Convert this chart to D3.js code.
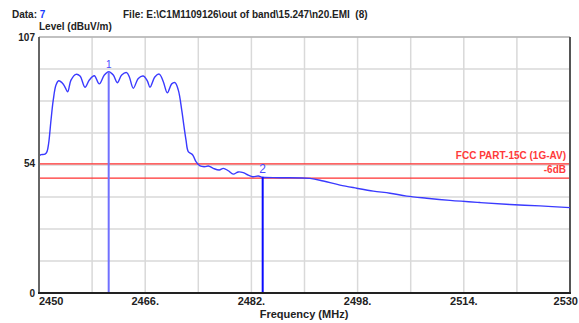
<!DOCTYPE html>
<html>
<head>
<meta charset="utf-8">
<script src="https://cdn.jsdelivr.net/npm/d3@7"></script>
<style>
  html, body { margin: 0; padding: 0; background: #fff; }
  svg { display: block; font-family: Arial, "Liberation Sans", sans-serif; }
</style>
</head>
<body>
<svg id="chart" width="579" height="323"></svg>
<script>
// Measured emission trace (frequency in MHz, level in dBuV/m)
const freqs = [2450.00, 2450.30, 2450.90, 2451.21, 2451.46, 2451.81, 2452.15, 2452.56, 2452.97, 2453.47,
  2453.84, 2454.32, 2454.82, 2455.57, 2456.18, 2456.93, 2457.58, 2458.33, 2459.08, 2459.84,
  2460.50, 2461.19, 2461.80, 2462.46, 2463.21, 2463.60, 2464.21, 2464.96, 2465.71, 2466.32,
  2466.72, 2467.48, 2468.12, 2468.73, 2469.33, 2469.99, 2470.49, 2470.99, 2471.50, 2471.85,
  2472.15, 2472.49, 2473.16, 2473.65, 2474.26, 2475.01, 2475.51, 2476.26, 2477.16, 2477.77,
  2478.52, 2479.27, 2480.03, 2480.78, 2481.53, 2482.20, 2483.04, 2483.70, 2486.31, 2490.83,
  2492.83, 2495.35, 2497.86, 2500.37, 2502.88, 2505.40, 2508.41, 2511.92, 2516.44, 2520.96,
  2525.48, 2530.00];
const levels = [57.3, 57.8, 58.0, 59.1, 62.7, 72.3, 80.7, 86.9, 88.7, 87.9,
  86.5, 84.1, 89.0, 91.4, 90.7, 86.0, 89.0, 90.8, 87.4, 91.1,
  92.5, 91.1, 87.9, 91.1, 92.1, 90.4, 85.6, 89.7, 90.7, 88.7,
  86.0, 90.4, 91.5, 88.3, 83.7, 87.4, 87.9, 84.8, 76.5, 69.5,
  63.9, 59.1, 57.7, 54.9, 53.1, 52.8, 53.1, 52.1, 51.4, 52.1,
  51.1, 49.7, 50.6, 50.3, 49.3, 48.6, 48.9, 48.4, 48.2, 47.9,
  46.8, 45.1, 43.8, 42.6, 41.7, 40.5, 39.6, 38.7, 37.8, 37.0,
  36.4, 35.7];

// Markers
const markerIds = ["1", "2"];
const markerFreqs = [2460.50, 2483.70];
const markerLevels = [92.5, 48.4];

// Limit lines
const limitNames = ["FCC PART-15C (1G-AV)", "-6dB"];
const limitLevels = [54, 48];

// Axis ticks
const xTickValues = [2450, 2466, 2482, 2498, 2514, 2530];
const xTickLabels = ["2450", "2466.", "2482.", "2498.", "2514.", "2530"];
const yTickValues = [107, 54, 0];
const yTickLabels = ["107", "54", "0"];

const svg = d3.select("#chart");
const plot = { left: 39, right: 570, top: 37, bottom: 293 };

const x = d3.scaleLinear().domain([2450, 2530]).range([plot.left, plot.right]);
const y = d3.scaleLinear().domain([0, 107]).range([plot.bottom, plot.top]);

// Header
const head = svg.append("text").attr("x", 12).attr("y", 18)
  .attr("font-size", 10).attr("font-weight", "bold");
head.append("tspan").attr("fill", "#222").text("Data: ");
head.append("tspan").attr("fill", "#1a3cff").text("7");
svg.append("text").attr("x", 123).attr("y", 18)
  .attr("font-size", 10).attr("font-weight", "bold").attr("fill", "#222")
  .attr("xml:space", "preserve")
  .text("File: E:\\C1M1109126\\out of band\\15.247\\n20.EMI  (8)");
svg.append("text").attr("x", 39).attr("y", 30)
  .attr("font-size", 10).attr("font-weight", "bold").attr("fill", "#222")
  .text("Level (dBuV/m)");

// Grid
const vGrid = d3.range(2450, 2530.01, 8);
const hGrid = d3.range(0, 9).map(i => i * 107 / 8);
svg.append("g").selectAll("line").data(vGrid).join("line")
  .attr("x1", d => x(d)).attr("x2", d => x(d))
  .attr("y1", plot.top).attr("y2", plot.bottom)
  .attr("stroke", "#d9d9d9").attr("stroke-width", 1.5);
svg.append("g").selectAll("line").data(hGrid).join("line")
  .attr("x1", plot.left).attr("x2", plot.right)
  .attr("y1", d => y(d)).attr("y2", d => y(d))
  .attr("stroke", "#d9d9d9").attr("stroke-width", 1.5);

// Frame
svg.append("line").attr("x1", plot.left).attr("x2", plot.right)
  .attr("y1", plot.top).attr("y2", plot.top).attr("stroke", "#a0a0a0").attr("stroke-width", 1);
svg.append("line").attr("x1", plot.right).attr("x2", plot.right)
  .attr("y1", plot.top).attr("y2", plot.bottom).attr("stroke", "#555").attr("stroke-width", 2);

// Limit lines
svg.append("g").selectAll("line").data(limitLevels).join("line")
  .attr("x1", plot.left).attr("x2", plot.right - 1)
  .attr("y1", d => y(d)).attr("y2", d => y(d))
  .attr("stroke", "#ff3030").attr("stroke-width", 1.3);
svg.append("g").selectAll("text").data(limitNames).join("text")
  .attr("x", 566)
  .attr("y", (d, i) => y(limitLevels[i]) - 5)
  .attr("text-anchor", "end").attr("font-size", 10).attr("font-weight", "bold")
  .attr("fill", "#ff3a3a").text(d => d);

// Trace
svg.append("clipPath").attr("id", "clip").append("rect")
  .attr("x", plot.left).attr("y", plot.top)
  .attr("width", plot.right - plot.left).attr("height", plot.bottom - plot.top);
const pts = freqs.map((f, i) => [f, levels[i]]);
const line = d3.line().x(d => x(d[0])).y(d => y(d[1])).curve(d3.curveCatmullRom.alpha(0.5));
svg.append("path").datum(pts).attr("d", line)
  .attr("clip-path", "url(#clip)")
  .attr("fill", "none").attr("stroke", "#3a3aff").attr("stroke-width", 1.4);

// Marker lines
const markerColors = ["#7070ff", "#0a0aff"];
const markerSizes = [10, 12];
svg.append("g").selectAll("line").data(markerFreqs).join("line")
  .attr("x1", d => x(d)).attr("x2", d => x(d))
  .attr("y1", (d, i) => y(markerLevels[i])).attr("y2", plot.bottom)
  .attr("stroke", (d, i) => markerColors[i]).attr("stroke-width", 2);
svg.append("g").selectAll("text").data(markerIds).join("text")
  .attr("x", (d, i) => x(markerFreqs[i]))
  .attr("y", (d, i) => y(markerLevels[i]) - 4)
  .attr("text-anchor", "middle").attr("font-size", (d, i) => markerSizes[i])
  .attr("fill", "#4a4aff").text(d => d);

// Axes (left and bottom)
svg.append("line").attr("x1", plot.left).attr("x2", plot.left)
  .attr("y1", plot.top).attr("y2", plot.bottom + 1).attr("stroke", "#666").attr("stroke-width", 2);
svg.append("line").attr("x1", plot.left - 1).attr("x2", plot.right + 1)
  .attr("y1", plot.bottom).attr("y2", plot.bottom).attr("stroke", "#222").attr("stroke-width", 2);

// Y tick labels
svg.append("g").selectAll("text").data(yTickValues).join("text")
  .attr("x", 35).attr("y", d => y(d)).attr("dy", "0.35em")
  .attr("text-anchor", "end").attr("font-size", 10).attr("font-weight", "bold")
  .attr("fill", "#222").text((d, i) => yTickLabels[i]);

// X tick labels
svg.append("g").selectAll("text").data(xTickValues).join("text")
  .attr("x", (d, i) => i === xTickValues.length - 1 ? x(d) + 8 : x(d))
  .attr("y", 305)
  .attr("text-anchor", (d, i) => i === 0 ? "start" : (i === xTickValues.length - 1 ? "end" : "middle"))
  .attr("font-size", 11).attr("font-weight", "bold").attr("fill", "#222")
  .text((d, i) => xTickLabels[i]);

svg.append("text").attr("x", 304).attr("y", 318)
  .attr("text-anchor", "middle").attr("font-size", 11).attr("font-weight", "bold")
  .attr("fill", "#222").text("Frequency (MHz)");
</script>
</body>
</html>
